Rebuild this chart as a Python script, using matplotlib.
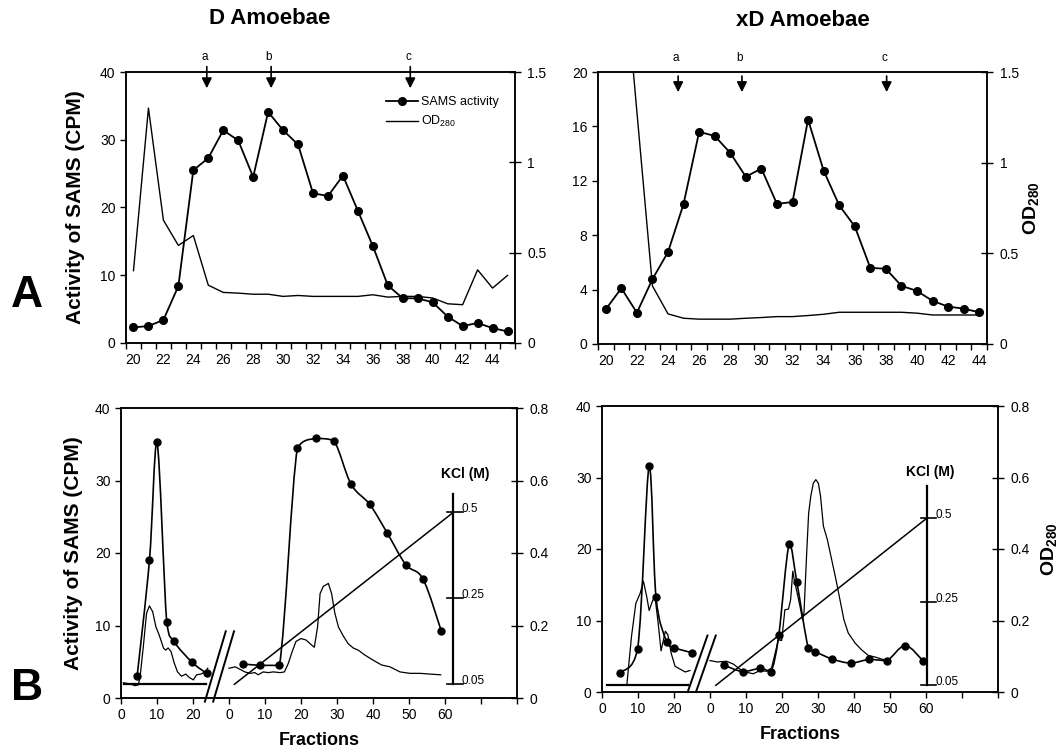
import numpy as np
import matplotlib
matplotlib.use("Agg")
import matplotlib.pyplot as plt  # noqa: E402
from matplotlib.lines import Line2D  # noqa: E402
from matplotlib.path import Path  # noqa: E402
from matplotlib.patches import PathPatch  # noqa: E402

plt.rcParams["font.family"] = ["Liberation Sans", "DejaVu Sans"]
plt.rcParams["mathtext.fontset"] = "custom"
plt.rcParams["mathtext.rm"] = "Liberation Sans"
plt.rcParams["mathtext.bf"] = "Liberation Sans:bold"

# ---- A: gel filtration, one value per fraction --------------------------------
d_frac = list(range(20, 46))
d_sams = [2.3, 2.5, 3.4, 8.4, 25.5, 27.3, 31.4, 29.9, 24.5, 34.1, 31.4, 29.3, 22.1,
          21.7, 24.7, 19.5, 14.3, 8.5, 6.6, 6.6, 6.0, 3.9, 2.5, 2.95, 2.2, 1.7]
d_od = [0.40, 1.30, 0.68, 0.54, 0.595, 0.32, 0.28, 0.276, 0.27, 0.27, 0.258, 0.263,
        0.258, 0.258, 0.258, 0.258, 0.267, 0.254, 0.258, 0.258, 0.249, 0.217, 0.212,
        0.405, 0.304, 0.374]
d_arrows = {"a": 24.9, "b": 29.2, "c": 38.5}

xd_frac = list(range(20, 45))
xd_sams = [2.55, 4.1, 2.3, 4.77, 6.76, 10.3, 15.6, 15.3, 14.05, 12.3, 12.9, 10.3,
           10.44, 16.5, 12.75, 10.2, 8.65, 5.6, 5.53, 4.28, 3.9, 3.17, 2.75, 2.6, 2.33]
xd_od = [2.3, 2.25, 1.28, 0.32, 0.166, 0.142, 0.137, 0.137, 0.137, 0.142, 0.146,
         0.151, 0.151, 0.157, 0.164, 0.175, 0.175, 0.175, 0.175, 0.175, 0.17, 0.16,
         0.16, 0.16, 0.16]
xd_arrows = {"a": 24.65, "b": 28.75, "c": 38.05}

# ---- B: two columns in series (first column, then KCl gradient column) -------
d_b1_frac = [4.5, 7.9, 10.0, 12.7, 14.7, 19.8, 23.8]
d_b1_sams = [3.1, 19.0, 35.3, 10.5, 7.8, 4.9, 3.4]
d_b2_frac = [3.9, 8.7, 14.0, 19.0, 24.2, 29.1, 33.9, 39.1, 43.9, 49.1, 53.9, 59.0]
d_b2_sams = [4.7, 4.5, 4.5, 34.5, 35.8, 35.5, 29.5, 26.7, 22.8, 18.4, 16.4, 9.2]
d_b1_od_frac = [0.65, 2.5, 3.9, 4.8, 5.3, 6.2, 7.1, 7.9, 8.8, 9.7, 10.6, 11.8, 12.4,
                13.1, 13.9, 14.8, 15.7, 16.8, 18.0, 18.9, 20.1, 21.0, 22.2, 23.3, 24.1]
d_b1_od = [0.042, 0.039, 0.034, 0.036, 0.058, 0.142, 0.234, 0.254, 0.238, 0.196,
           0.174, 0.138, 0.132, 0.138, 0.128, 0.096, 0.072, 0.060, 0.066, 0.057,
           0.050, 0.064, 0.066, 0.072, 0.082]
d_b2_od_frac = [0, 1.7, 3.1, 4.4, 5.8, 7.2, 8.1, 9.5, 10.9, 12.3, 14.2, 15.4, 16.5,
                17.4, 18.6, 20.0, 21.4, 22.5, 23.7, 24.6, 25.3, 26.2, 27.6, 28.5,
                29.4, 30.4, 31.8, 33.1, 34.5, 35.9, 37.8, 40.1, 42.4, 44.7, 47.5,
                50.3, 53.1, 55.8, 58.8]
d_b2_od = [0.082, 0.086, 0.079, 0.072, 0.068, 0.070, 0.064, 0.072, 0.070, 0.072,
           0.070, 0.072, 0.096, 0.124, 0.156, 0.164, 0.160, 0.150, 0.140, 0.196,
           0.288, 0.308, 0.316, 0.288, 0.234, 0.196, 0.170, 0.150, 0.138, 0.132,
           0.118, 0.104, 0.091, 0.086, 0.072, 0.068, 0.068, 0.066, 0.064]
d_wash_frac = [0.9, 23.5]
d_grad_frac = [1.5, 62.3]

xd_b1_frac = [5.0, 9.9, 13.1, 15.0, 18.0, 20.1, 24.9]
xd_b1_sams = [2.7, 6.05, 31.6, 13.3, 7.0, 6.2, 5.5]
xd_b2_frac = [3.9, 9.1, 14.0, 16.9, 19.1, 22.0, 24.1, 27.3, 29.2, 34.0, 39.1, 44.2,
              49.1, 54.2, 59.1]
xd_b2_sams = [3.75, 2.85, 3.3, 2.85, 7.95, 20.7, 15.45, 6.15, 5.65, 4.6, 4.05, 4.55,
              4.4, 6.5, 4.4]
xd_b1_od_frac = [1.3, 3.6, 6.9, 7.3, 8.2, 9.4, 10.6, 11.5, 12.4, 13.1, 14.0, 14.7,
                 15.6, 16.4, 17.6, 18.3, 19.2, 20.3, 21.7, 23.1, 24.4]
xd_b1_od = [0.020, 0.020, 0.020, 0.062, 0.156, 0.248, 0.276, 0.310, 0.268, 0.228,
            0.254, 0.268, 0.193, 0.115, 0.170, 0.160, 0.109, 0.072, 0.064, 0.056,
            0.060]
xd_b2_od_frac = [0, 2.0, 4.6, 6.5, 8.3, 10.2, 12.0, 13.9, 15.7, 17.1, 18.1, 19.0,
                 19.9, 20.8, 21.8, 22.4, 23.0, 23.4, 24.1, 25.0, 25.7, 26.1, 26.9,
                 27.4, 28.0, 28.7, 29.4, 30.1, 30.7, 31.5, 32.6, 33.8, 35.0, 36.1,
                 37.2, 38.4, 40.3, 42.1, 44.0, 45.8, 47.7, 49.5]
xd_b2_od = [0.088, 0.084, 0.086, 0.078, 0.064, 0.055, 0.051, 0.060, 0.058, 0.067,
            0.109, 0.146, 0.144, 0.230, 0.232, 0.258, 0.338, 0.314, 0.282, 0.240,
            0.202, 0.221, 0.398, 0.500, 0.548, 0.584, 0.594, 0.584, 0.548, 0.464,
            0.426, 0.370, 0.314, 0.258, 0.202, 0.165, 0.137, 0.118, 0.102, 0.098,
            0.092, 0.088]
xd_wash_frac = [1.3, 23.8]
xd_grad_frac = [1.6, 60.2]

kcl_conc = [0.05, 0.5]
kcl_tick_labels = ["0.05", "0.25", "0.5"]

OFFSET = 30          # second column plotted after the axis break
FS = 10


def smooth_line(ax, x, y, **kw):
    """Excel-like smoothed line through the points (bezier, no overshoot)."""
    pts = np.column_stack([np.asarray(x, float), np.asarray(y, float)])
    verts, codes = [pts[0]], [Path.MOVETO]
    n = len(pts)
    for i in range(n - 1):
        p0, p1 = pts[max(i - 1, 0)], pts[i]
        p2, p3 = pts[i + 1], pts[min(i + 2, n - 1)]
        c1 = p1 + (p2 - p0) / 6
        c2 = p2 - (p3 - p1) / 6
        lo, hi = min(p1[1], p2[1]), max(p1[1], p2[1])
        c1[1] = np.clip(c1[1], lo, hi)
        c2[1] = np.clip(c2[1], lo, hi)
        verts += [c1, c2, p2]
        codes += [Path.CURVE4] * 3
    ax.add_patch(PathPatch(Path(verts, codes), fill=False, **kw))


def style(ax, ax2):
    for a in (ax, ax2):
        for s in a.spines.values():
            s.set_linewidth(1.1)
    ax.tick_params(axis="both", direction="out", length=4, width=1, labelsize=FS)
    ax2.tick_params(axis="y", direction="inout", length=8, width=1, labelsize=FS,
                    pad=5)


def panel_a(ax, frac, sams, od, arrows, yticks, arrow_y):
    ax2 = ax.twinx()
    ax.plot(frac, sams, "-o", color="k", lw=1.3, ms=5.5)
    ax2.plot(frac, od, "-", color="k", lw=1.0)
    ax.set_xlim(frac[0] - 0.5, frac[-1] + 0.5)
    ax.set_ylim(yticks[0], yticks[-1])
    ax.set_yticks(yticks)
    ax2.set_ylim(0, 1.5)
    ax2.set_yticks([0, 0.5, 1, 1.5], labels=["0", "0.5", "1", "1.5"])
    ax.set_xticks(np.arange(frac[0] - 0.5, frac[-1] + 1, 1))
    ax.set_xticks(frac[::2], labels=[str(v) for v in frac[::2]], minor=True)
    style(ax, ax2)
    ax.tick_params(axis="x", which="major", labelbottom=False)
    ax.tick_params(axis="x", which="minor", length=0, labelsize=FS, pad=7)
    trans = ax.get_xaxis_transform()
    tail, tip, lab_y = arrow_y
    for lab, xv in arrows.items():
        ax.annotate("", xy=(xv, tip), xytext=(xv, tail), xycoords=trans,
                    textcoords=trans, annotation_clip=False,
                    arrowprops=dict(arrowstyle="-|>", color="k", lw=1.2,
                                    mutation_scale=15, shrinkA=0, shrinkB=0))
        ax.text(xv - 0.15, lab_y, lab, transform=trans, ha="center", va="center",
                fontsize=8.5)
    return ax2


def panel_b(ax, seg1, seg2, od1, od2, wash, grad, kcl_layout, brk):
    ax2 = ax.twinx()
    f1, s1 = seg1
    f2, s2 = seg2
    x2 = np.asarray(f2) + OFFSET
    smooth_line(ax, f1, s1, color="k", lw=1.2)
    smooth_line(ax, x2, s2, color="k", lw=1.2)
    ax.plot(f1, s1, "o", color="k", ms=5)
    ax.plot(x2, s2, "o", color="k", ms=5)
    ax2.plot(od1[0], od1[1], color="k", lw=0.9)
    ax2.plot(np.asarray(od2[0]) + OFFSET, od2[1], color="k", lw=0.9)

    # KCl: constant wash on column 1, linear gradient on column 2
    kx, lo, hi, top, lab_xy = kcl_layout

    def kcl_y(c):
        return lo + (np.asarray(c) - kcl_conc[0]) / (kcl_conc[1] - kcl_conc[0]) * (hi - lo)

    ax.plot(wash, kcl_y([kcl_conc[0]] * 2), color="k", lw=1.6)
    ax.plot(np.asarray(grad) + OFFSET, kcl_y(kcl_conc), color="k", lw=1.1)
    ax.plot([kx, kx], [lo, top], color="k", lw=1.6)
    for lab, ty in zip(kcl_tick_labels, np.linspace(lo, hi, len(kcl_tick_labels))):
        ax.plot([kx - 1.7, kx + 2.6], [ty, ty], color="k", lw=1.2)
        ax.text(kx + 2.4, ty + 0.4, lab, fontsize=8.5, ha="left", va="center")
    ax.text(lab_xy[0], lab_xy[1], "KCl (M)", fontsize=10, fontweight="bold",
            ha="center", va="center")

    # axis break marks
    bx, by0, by1, bdx = brk
    for dx in (0, 2.3):
        ax.plot([bx + dx, bx + dx + bdx], [by0, by1], color="k", lw=1.4,
                clip_on=False)

    ax.set_xlim(0, 110)
    ax.set_ylim(0, 40)
    ax.set_yticks([0, 10, 20, 30, 40])
    ax2.set_ylim(0, 0.8)
    ax2.set_yticks([0, 0.2, 0.4, 0.6, 0.8], labels=["0", "0.2", "0.4", "0.6", "0.8"])
    ax.set_xticks(np.arange(0, 111, 10),
                  labels=["0", "10", "20", "0", "10", "20", "30", "40", "50", "60",
                          "", ""])
    style(ax, ax2)
    ax.set_xlabel("Fractions", fontsize=13, fontweight="bold")
    ax.xaxis.set_label_coords(0.5, -0.118)
    return ax2


fig = plt.figure(figsize=(10.59, 7.52), dpi=100)
W, H = 1059, 752


def add_axes(left, right, top, bottom):
    return fig.add_axes([left / W, 1 - bottom / H, (right - left) / W,
                         (bottom - top) / H])


ax_a1 = add_axes(126, 515, 72, 343)
ax_a2 = add_axes(598, 987, 72, 344)
ax_b1 = add_axes(121, 517, 408, 698)
ax_b2 = add_axes(602, 998, 406, 692)

panel_a(ax_a1, d_frac, d_sams, d_od, d_arrows, [0, 10, 20, 30, 40],
        (1.02, 0.94, 1.055))
t2 = panel_a(ax_a2, xd_frac, xd_sams, xd_od, xd_arrows, [0, 4, 8, 12, 16, 20],
             (0.985, 0.926, 1.052))

handles = [Line2D([], [], color="k", marker="o", ms=5.5, lw=1.3),
           Line2D([], [], color="k", lw=1.0)]
ax_a1.legend(handles, ["SAMS activity", r"OD$_{280}$"], loc="upper left",
             bbox_to_anchor=(0.655, 0.93), frameon=False, fontsize=9,
             handlelength=2.6, handletextpad=0.2, borderaxespad=0, labelspacing=0.5)

panel_b(ax_b1, (d_b1_frac, d_b1_sams), (d_b2_frac, d_b2_sams),
        (d_b1_od_frac, d_b1_od), (d_b2_od_frac, d_b2_od), d_wash_frac, d_grad_frac,
        (92.3, 1.89, 25.6, 28.1, (95.6, 30.9)), (23.3, -0.5, 9.2, 5.8))
t4 = panel_b(ax_b2, (xd_b1_frac, xd_b1_sams), (xd_b2_frac, xd_b2_sams),
             (xd_b1_od_frac, xd_b1_od), (xd_b2_od_frac, xd_b2_od), xd_wash_frac,
             xd_grad_frac, (90.2, 0.93, 24.3, 28.8, (91.1, 30.7)),
             (23.8, 0.0, 7.9, 5.5))

for ax, xc in ((ax_a1, -0.105), (ax_b1, -0.096)):
    ax.set_ylabel("Activity of SAMS (CPM)", fontsize=15, fontweight="bold")
    ax.yaxis.set_label_coords(xc, 0.5)
for ax, xc in ((t2, 1.088), (t4, 1.104)):
    ax.set_ylabel(r"$\mathbf{OD_{280}}$", fontsize=14)
    ax.yaxis.set_label_coords(xc, 0.5)

fig.text(270 / W, 1 - 19 / H, "D Amoebae", fontsize=16, fontweight="bold",
         ha="center", va="center")
fig.text(803 / W, 1 - 21 / H, "xD Amoebae", fontsize=16, fontweight="bold",
         ha="center", va="center")
fig.text(27 / W, 1 - 296 / H, "A", fontsize=32, fontweight="bold",
         ha="center", va="center")
fig.text(27 / W, 1 - 688 / H, "B", fontsize=32, fontweight="bold",
         ha="center", va="center")

fig.savefig("out.png", dpi=100)
